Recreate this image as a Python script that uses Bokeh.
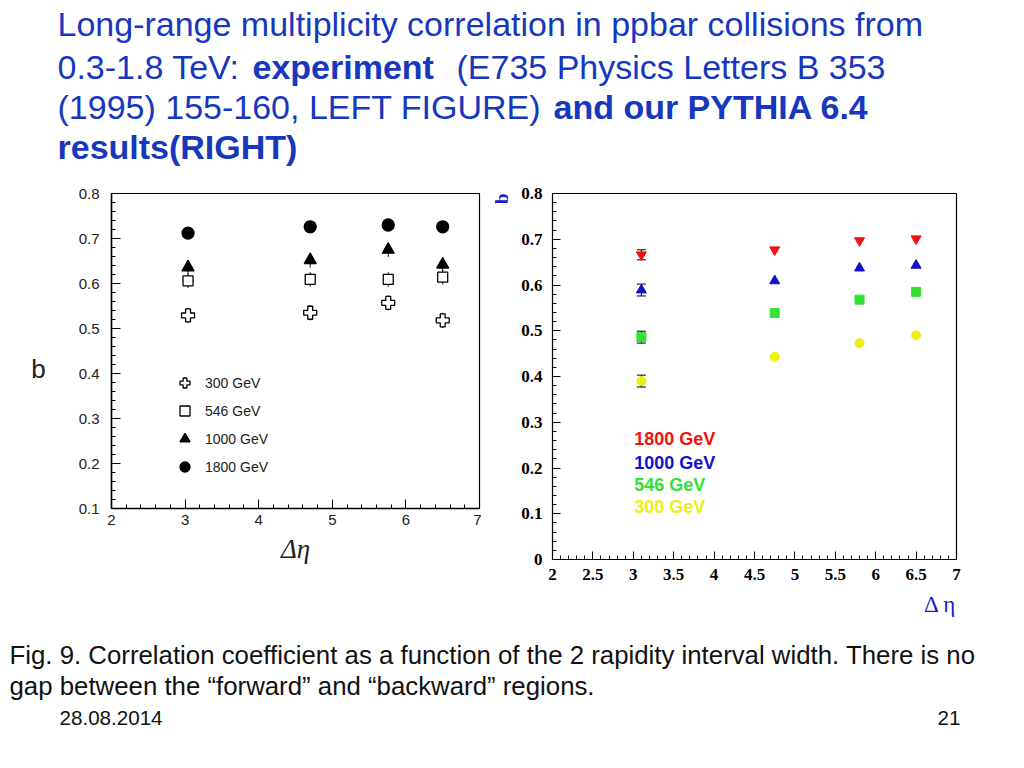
from bokeh.plotting import figure
from bokeh.models import (Range1d, SingleIntervalTicker, Legend, LegendItem, Label, Title,
                          Whisker, TeeHead, ColumnDataSource)
from bokeh.layouts import column, row
from bokeh.embed import file_html
from bokeh.resources import INLINE
from bokeh.core.properties import value

# ---------------- data ----------------
# Left: E735 experiment
exp_deta = [3.04, 4.70, 5.76, 6.50]
exp_b_300 = [0.529, 0.535, 0.557, 0.518]
exp_b_546 = [0.606, 0.609, 0.609, 0.614]
exp_b_1000 = [0.636, 0.652, 0.675, 0.642]
exp_b_1800 = [0.712, 0.726, 0.730, 0.726]
exp_err_300 = [0.017, 0.017, 0.017, 0.017]
exp_err_546 = [0.016, 0.016, 0.016, 0.016]
exp_err_1000 = [0.016, 0.016, 0.016, 0.016]
exp_err_1800 = [0.010, 0.010, 0.010, 0.010]
exp_labels = ["300 GeV", "546 GeV", "1000 GeV", "1800 GeV"]

# Right: PYTHIA 6.4
py_deta = [3.1, 4.75, 5.8, 6.5]
py_b_1800 = [0.666, 0.677, 0.697, 0.701]
py_b_1000 = [0.589, 0.609, 0.637, 0.643]
py_b_546 = [0.486, 0.539, 0.568, 0.585]
py_b_300 = [0.390, 0.443, 0.473, 0.490]
py_err_1800 = [0.011, 0.0, 0.0, 0.0]
py_err_1000 = [0.013, 0.0, 0.0, 0.0]
py_err_546 = [0.013, 0.0, 0.0, 0.0]
py_err_300 = [0.013, 0.0, 0.0, 0.0]
py_labels = ["1800 GeV", "1000 GeV", "546 GeV", "300 GeV"]
py_colors = ["#ee1111", "#1111cc", "#33e033", "#eeee10"]

title_line1 = "Long-range multiplicity correlation in ppbar collisions from"
title_line2a = "0.3-1.8 TeV: "
title_line2b = "experiment"
title_line2c = "(E735 Physics Letters B 353"
title_line3a = "(1995) 155-160, LEFT FIGURE)"
title_line3b = "and our PYTHIA 6.4"
title_line4 = "results(RIGHT)"
caption_1 = "Fig. 9. Correlation coefficient as a function of the 2 rapidity  interval width. There is no"
caption_2 = "gap between the \u201cforward\u201d and \u201cbackward\u201d regions."
footer_date = "28.08.2014"
footer_page = "21"

TITLE_BLUE = "#1637be"
AXIS_BLUE = "#1a1ad0"
SANS = "Liberation Sans"
SERIF = "Liberation Serif"


def text_fig(w, h):
    f = figure(width=w, height=h, x_range=Range1d(0, w), y_range=Range1d(h, 0),
               x_axis_type=None, y_axis_type=None, toolbar_location=None,
               output_backend="svg", min_border=0, outline_line_color=None)
    f.grid.visible = False
    return f


# ---------------- title ----------------
tf = text_fig(1016, 180)
tkw = dict(text_font=value(SANS), text_font_size="34px", text_color=TITLE_BLUE,
           text_baseline="alphabetic", text_align="left")
tf.text(x=[57], y=[23.5], text=[title_line1], **tkw)
tf.text(x=[57], y=[66.5], text=[title_line2a], **tkw)
tf.text(x=[252], y=[66.5], text=[title_line2b], text_font_style="bold", **tkw)
tf.text(x=[456], y=[66.5], text=[title_line2c], **tkw)
tf.text(x=[57], y=[106.5], text=[title_line3a], **tkw)
tf.text(x=[553], y=[106.5], text=[title_line3b], text_font_style="bold", **tkw)
tf.text(x=[57], y=[146.5], text=[title_line4], text_font_style="bold", **tkw)


def style_axes(p, label_font, label_size, label_style, label_color, maj_in, min_in):
    for ax in (p.xaxis[0], p.yaxis[0]):
        ax.major_tick_in = maj_in
        ax.major_tick_out = 0
        ax.minor_tick_in = min_in
        ax.minor_tick_out = 0
        ax.axis_line_color = "black"
        ax.major_tick_line_color = "black"
        ax.minor_tick_line_color = "black"
        ax.major_label_text_font = label_font
        ax.major_label_text_font_size = label_size
        ax.major_label_text_font_style = label_style
        ax.major_label_text_color = label_color
    p.grid.visible = False
    p.outline_line_color = "black"
    p.outline_line_width = 1.2


# ---------------- left y-axis title ("b", upright), same frame as left plot ----------------
bf = figure(frame_width=60, frame_height=315, min_border_left=0, min_border_right=0,
            min_border_top=13, min_border_bottom=122,
            x_range=Range1d(0, 60), y_range=Range1d(0.1, 0.8),
            x_axis_type=None, y_axis_type=None, toolbar_location=None,
            output_backend="svg", outline_line_color=None)
bf.grid.visible = False
bf.text(x=[38], y=[0.411], text=["b"], text_font=value(SANS), text_font_size="26px",
        text_color="#222222", text_align="center", text_baseline="middle")

# ---------------- left: experiment ----------------
pl = figure(frame_width=368, frame_height=315, min_border_left=51, min_border_right=2,
            min_border_top=13, min_border_bottom=122,
            x_range=Range1d(2, 7), y_range=Range1d(0.1, 0.8),
            toolbar_location=None, output_backend="svg")
pl.xaxis.ticker = SingleIntervalTicker(interval=1, num_minor_ticks=5)
pl.yaxis.ticker = SingleIntervalTicker(interval=0.1, num_minor_ticks=5)
style_axes(pl, SANS, "15px", "normal", "#222222", 9, 4)
pl.xaxis.major_label_standoff = 6
pl.yaxis.major_label_standoff = 12
pl.xaxis.axis_line_width = 1.5
pl.yaxis.axis_line_width = 1.5
pl.xaxis.axis_label = "\u0394\u03b7"
pl.xaxis.axis_label_text_font = SERIF
pl.xaxis.axis_label_text_font_style = "italic"
pl.xaxis.axis_label_text_font_size = "27px"
pl.xaxis.axis_label_text_color = "#222222"
pl.xaxis.axis_label_standoff = 6

series_exp = [
    (exp_b_300, exp_err_300, "plus", 13, "white"),
    (exp_b_546, exp_err_546, "square", 10, "white"),
    (exp_b_1000, exp_err_1000, "triangle", 12, "black"),
    (exp_b_1800, exp_err_1800, "circle", 12, "black"),
]
items = []
for (bvals, errs, mk, sz, fill), lab in zip(series_exp, exp_labels):
    lo = [b - e for b, e in zip(bvals, errs)]
    hi = [b + e for b, e in zip(bvals, errs)]
    pl.segment(x0=exp_deta, y0=lo, x1=exp_deta, y1=hi, line_color="black", line_width=1)
    r = pl.scatter(x=exp_deta, y=bvals, marker=mk, size=sz, fill_color=fill,
                   line_color="black", line_width=1.3)
    items.append(LegendItem(label=lab, renderers=[r]))

leg = Legend(items=items, location=(61, 29), glyph_width=25, glyph_height=25,
             label_height=25, spacing=3, label_standoff=8, padding=10,
             border_line_color=None, background_fill_alpha=0,
             label_text_font=SANS, label_text_font_size="14px", label_text_color="#222222")
pl.add_layout(leg)

# ---------------- right: PYTHIA ----------------
pr = figure(frame_width=404, frame_height=366, min_border_left=71, min_border_right=60,
            min_border_top=13, min_border_bottom=71,
            x_range=Range1d(2, 7), y_range=Range1d(0, 0.8),
            toolbar_location=None, output_backend="svg")
pr.xaxis.ticker = SingleIntervalTicker(interval=0.5, num_minor_ticks=5)
pr.yaxis.ticker = SingleIntervalTicker(interval=0.1, num_minor_ticks=5)
style_axes(pr, SERIF, "17px", "bold", "black", 8, 4)
pr.xaxis.major_label_standoff = 9
pr.yaxis.major_label_standoff = 10

series_py = [
    (py_b_1800, py_err_1800, "inverted_triangle", 10),
    (py_b_1000, py_err_1000, "triangle", 10),
    (py_b_546, py_err_546, "square", 9),
    (py_b_300, py_err_300, "circle", 9),
]
for (bvals, errs, mk, sz), col in zip(series_py, py_colors):
    ex = [x for x, e in zip(py_deta, errs) if e > 0]
    elo = [b - e for b, e in zip(bvals, errs) if e > 0]
    ehi = [b + e for b, e in zip(bvals, errs) if e > 0]
    src = ColumnDataSource(dict(base=ex, lower=elo, upper=ehi))
    pr.add_layout(Whisker(source=src, base="base", lower="lower", upper="upper",
                          dimension="height", line_color="black", line_width=1,
                          upper_head=TeeHead(size=9, line_color="black", line_width=1),
                          lower_head=TeeHead(size=9, line_color="black", line_width=1)))
    pr.scatter(x=py_deta, y=bvals, marker=mk, size=sz, fill_color=col, line_color=col)

legend_y = [0.264, 0.212, 0.163, 0.114]
for lab, col, yy in zip(py_labels, py_colors, legend_y):
    pr.add_layout(Label(x=3.012, y=yy, text=lab, text_font=SANS, text_font_style="bold",
                        text_font_size="18px", text_color=col, text_align="left",
                        text_baseline="middle"))

pr.add_layout(Title(text="\u0394 \u03b7", align="right", text_font=SERIF,
                    text_font_style="normal", text_font_size="23px",
                    text_color=AXIS_BLUE, standoff=15), "below")
pr.add_layout(Title(text="b", align="right", text_font=SERIF, text_font_style="bold",
                    text_font_size="19px", text_color=AXIS_BLUE, standoff=14), "left")

# ---------------- caption ----------------
cf = text_fig(1016, 130)
ckw = dict(text_font=value(SANS), text_color="#111111", text_baseline="alphabetic")
cf.text(x=[9], y=[24.5], text=[caption_1], text_font_size="25.8px", text_align="left", **ckw)
cf.text(x=[9], y=[55], text=[caption_2], text_font_size="25.8px", text_align="left", **ckw)
cf.text(x=[59], y=[87.5], text=[footer_date], text_font_size="20.6px", text_align="left", **ckw)
cf.text(x=[960], y=[87.5], text=[footer_page], text_font_size="20.6px", text_align="right", **ckw)

layout = column(tf, row(bf, pl, pr), cf)
open("out.html", "w").write(file_html(layout, INLINE))
